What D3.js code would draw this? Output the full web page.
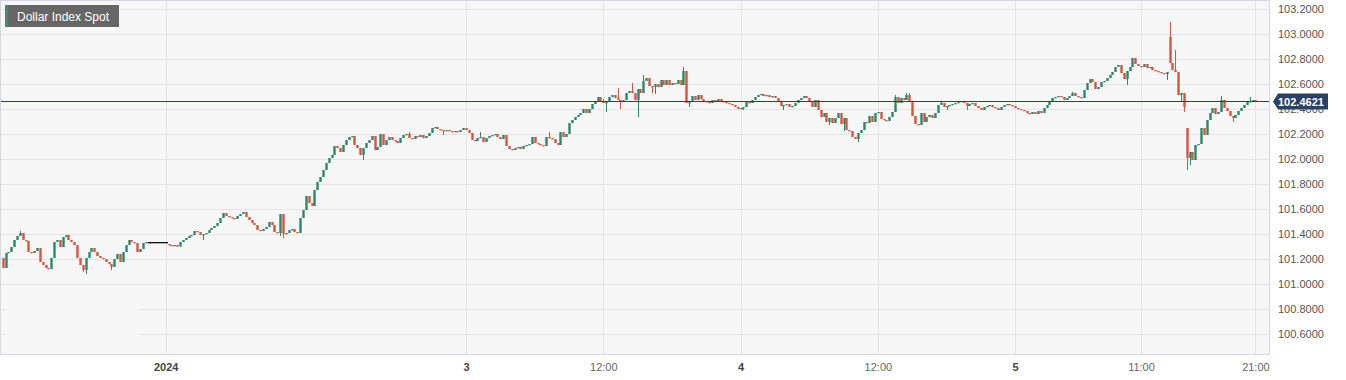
<!DOCTYPE html>
<html>
<head>
<meta charset="utf-8">
<script src="https://cdn.jsdelivr.net/npm/d3@7/dist/d3.min.js"></script>
<style>
    body { margin: 0; background: #fff; font-family: "Liberation Sans", Arial, sans-serif; }
    #chart { width: 1346px; height: 380px; }
</style>
</head>
<body>
<div id="chart"></div>
<script>
//Datos (velas de 15 minutos, cierre de cada vela)
const closes = [
    101.128,101.248,101.256,101.296,101.352,101.384,101.408,101.352,101.344,101.256,
    101.248,101.264,101.288,101.176,101.152,101.128,101.120,101.208,101.336,101.352,
    101.296,101.376,101.392,101.352,101.336,101.312,101.208,101.152,101.112,101.208,
    101.256,101.288,101.256,101.224,101.208,101.200,101.176,101.160,101.136,101.200,
    101.240,101.176,101.256,101.312,101.352,101.336,101.328,101.256,101.280,101.328,
    101.336,101.336,101.336,101.336,101.336,101.336,101.336,101.336,101.312,101.304,
    101.312,101.300,101.336,101.352,101.368,101.384,101.392,101.424,101.416,101.392,
    101.400,101.408,101.432,101.448,101.464,101.488,101.528,101.568,101.544,101.536,
    101.528,101.520,101.544,101.560,101.576,101.536,101.512,101.488,101.472,101.432,
    101.424,101.440,101.456,101.496,101.472,101.416,101.408,101.560,101.400,101.408,
    101.432,101.440,101.416,101.408,101.528,101.592,101.704,101.648,101.624,101.752,
    101.816,101.856,101.912,101.968,102.008,102.032,102.104,102.088,102.056,102.112,
    102.152,102.176,102.184,102.112,102.088,102.032,102.088,102.128,102.152,102.184,
    102.072,102.096,102.200,102.112,102.152,102.176,102.152,102.144,102.128,102.168,
    102.192,102.200,102.168,102.160,102.184,102.176,102.192,102.168,102.184,102.208,
    102.248,102.256,102.240,102.232,102.224,102.232,102.224,102.216,102.224,102.216,
    102.232,102.248,102.232,102.208,102.152,102.144,102.168,102.176,102.136,102.168,
    102.184,102.192,102.200,102.176,102.160,102.192,102.104,102.080,102.072,102.088,
    102.096,102.080,102.104,102.112,102.120,102.176,102.128,102.120,102.112,102.104,
    102.176,102.168,102.160,102.128,102.112,102.216,102.176,102.200,102.288,102.312,
    102.336,102.352,102.368,102.400,102.368,102.400,102.440,102.464,102.496,102.464,
    102.448,102.456,102.496,102.512,102.488,102.472,102.464,102.472,102.528,102.544,
    102.528,102.472,102.560,102.528,102.624,102.648,102.584,102.576,102.600,102.576,
    102.632,102.592,102.632,102.592,102.608,102.600,102.632,102.592,102.704,102.448,
    102.456,102.504,102.472,102.512,102.480,102.464,102.456,102.448,102.472,102.456,
    102.480,102.464,102.456,102.448,102.440,102.432,102.416,102.400,102.408,102.416,
    102.456,102.448,102.472,102.496,102.512,102.520,102.504,102.512,102.496,102.504,
    102.488,102.464,102.424,102.432,102.440,102.416,102.424,102.448,102.472,102.488,
    102.504,102.488,102.464,102.416,102.472,102.392,102.336,102.368,102.296,102.328,
    102.288,102.328,102.368,102.280,102.328,102.232,102.224,102.176,102.160,102.208,
    102.232,102.296,102.288,102.344,102.296,102.368,102.376,102.320,102.312,102.304,
    102.336,102.376,102.496,102.448,102.488,102.472,102.512,102.464,102.344,102.280,
    102.272,102.368,102.296,102.336,102.352,102.328,102.368,102.432,102.448,102.416,
    102.424,102.432,102.440,102.448,102.456,102.464,102.448,102.424,102.440,102.448,
    102.424,102.408,102.392,102.416,102.424,102.432,102.416,102.408,102.392,102.416,
    102.432,102.440,102.432,102.424,102.408,102.400,102.392,102.384,102.368,102.360,
    102.376,102.360,102.384,102.368,102.408,102.432,102.456,102.488,102.496,102.504,
    102.496,102.472,102.488,102.504,102.528,102.504,102.496,102.488,102.552,102.608,
    102.640,102.616,102.560,102.576,102.616,102.624,102.648,102.672,102.696,102.736,
    102.752,102.688,102.640,102.704,102.736,102.808,102.760,102.744,102.736,102.760,
    102.728,102.736,102.712,102.704,102.696,102.688,102.680,102.696,102.768,102.712,
    102.696,102.512,102.528,102.416,102.008,102.056,101.992,102.112,102.120,102.248,
    102.192,102.312,102.368,102.408,102.360,102.376,102.472,102.408,102.384,102.344,
    102.328,102.352,102.384,102.408,102.432,102.456,102.464,102.472,102.4621
];

//Aperturas con hueco (el resto abre en el cierre anterior)
const opens = { 0: 101.208, 58: 101.320, 408: 102.976, 414: 102.248 };

//Mechas visibles
const highs = {
    6: 101.424, 142: 102.216, 167: 102.216, 191: 102.216, 210: 102.480, 215: 102.568,
    220: 102.608, 224: 102.672, 238: 102.736, 312: 102.512, 316: 102.528, 317: 102.528,
    328: 102.464, 374: 102.536, 408: 103.096, 410: 102.872, 426: 102.504, 436: 102.496
};
const lows = {
    28: 101.096, 29: 101.080, 38: 101.112, 70: 101.352, 97: 101.384, 98: 101.368,
    126: 101.992, 154: 102.192, 211: 102.376, 216: 102.400, 222: 102.336, 227: 102.528,
    228: 102.520, 240: 102.416, 259: 102.392, 273: 102.392, 289: 102.272, 294: 102.224,
    299: 102.136, 330: 102.392, 337: 102.392, 393: 102.592, 407: 102.632, 412: 102.456,
    413: 102.376, 414: 101.912, 415: 101.952, 430: 102.296
};

//Ejes
const xTickIndex = [57, 162, 210, 258, 306, 354, 398, 438];
const xTickLabels = ['2024', '3', '12:00', '4', '12:00', '5', '11:00', '21:00'];
const xTickBold = [true, true, false, true, false, true, false, false];
const yTicks = [100.6, 100.8, 101.0, 101.2, 101.4, 101.6, 101.8, 102.0, 102.2, 102.4, 102.6, 102.8, 103.0, 103.2];
const lastPrice = 102.4621;
const seriesName = 'Dollar Index Spot';

//Colores fijos
const COLOR_UP = '#2c876b',
    COLOR_DOWN = '#d8543f',
    COLOR_GRID = '#e4e4e4',
    COLOR_BG = '#f7f7f7',
    COLOR_BORDER = '#d3d7e6',
    COLOR_LAST = '#2b4164';

let data = closes.map(function(c, i) {
    let o = opens[i] !== undefined ? opens[i] : closes[i - 1];
    return {
        i: i,
        o: o,
        c: c,
        h: highs[i] !== undefined ? highs[i] : Math.max(o, c),
        l: lows[i] !== undefined ? lows[i] : Math.min(o, c)
    };
});

let plotW = 1270, plotH = 355;

let svg = d3.select('#chart')
    .append('svg')
        .attr('width', 1346)
        .attr('height', 380);

let x = d3.scaleLinear()
    .domain([0, closes.length - 1])
    .range([2.7, 1255.4]);

let y = d3.scaleLinear()
    .domain([100.6, 103.2])
    .range([334, 9]);

//Fondo del área
svg.append('rect')
    .attr('x', 0.5).attr('y', 0.5)
    .attr('width', plotW - 1).attr('height', plotH - 1)
    .attr('fill', COLOR_BG);

//Rejilla
svg.append('g')
    .selectAll('line')
    .data(yTicks)
    .enter()
    .append('line')
        .attr('x1', 0).attr('x2', plotW)
        .attr('y1', function(d) { return Math.round(y(d)) + 0.5; })
        .attr('y2', function(d) { return Math.round(y(d)) + 0.5; })
        .attr('stroke', COLOR_GRID);

svg.append('g')
    .selectAll('line')
    .data(xTickIndex)
    .enter()
    .append('line')
        .attr('y1', 0).attr('y2', plotH)
        .attr('x1', function(d) { return Math.round(x(d)) + 0.5; })
        .attr('x2', function(d) { return Math.round(x(d)) + 0.5; })
        .attr('stroke', COLOR_GRID);

//Caja vacía abajo a la izquierda
svg.append('rect')
    .attr('x', 6).attr('y', 290)
    .attr('width', 133).attr('height', 64)
    .attr('fill', COLOR_BG);

//Velas
let candles = svg.append('g')
    .selectAll('g')
    .data(data)
    .enter()
    .append('g');

function candleColor(d) {
    if (d.c === d.o) return '#111';
    return d.c > d.o ? COLOR_UP : COLOR_DOWN;
}

candles.append('line')
    .attr('x1', function(d) { return Math.round(x(d.i)) + 0.5; })
    .attr('x2', function(d) { return Math.round(x(d.i)) + 0.5; })
    .attr('y1', function(d) { return y(d.h); })
    .attr('y2', function(d) { return y(d.l); })
    .attr('stroke', candleColor)
    .attr('stroke-width', 1);

candles.append('rect')
    .attr('x', function(d) { return d.c === d.o ? Math.round(x(d.i)) - 1 : Math.round(x(d.i)) + 0.5 - 1.2; })
    .attr('width', function(d) { return d.c === d.o ? 3 : 2.4; })
    .attr('y', function(d) { return Math.min(y(d.o), y(d.c)); })
    .attr('height', function(d) { return Math.max(1.3, Math.abs(y(d.o) - y(d.c))); })
    .attr('fill', candleColor);

//Línea del último precio
svg.append('line')
    .attr('x1', 0).attr('x2', plotW)
    .attr('y1', Math.round(y(lastPrice)) + 0.5)
    .attr('y2', Math.round(y(lastPrice)) + 0.5)
    .attr('stroke', COLOR_LAST)
    .attr('stroke-width', 1);

//Borde
svg.append('rect')
    .attr('x', 0.5).attr('y', 0.5)
    .attr('width', plotW - 1).attr('height', plotH - 1)
    .attr('fill', 'none')
    .attr('stroke', COLOR_BORDER);

//Eje Y
let yAxis = function(g) {
    g.call(d3.axisRight(y).tickValues(yTicks).tickSize(0).tickPadding(8)
        .tickFormat(function(d) { return d.toFixed(4); }));
    g.call(function(g) { g.select('.domain').remove(); });
    g.selectAll('text')
        .attr('fill', '#555')
        .style('font-size', '11px')
        .style('font-family', '"Liberation Sans", Arial, sans-serif');
};

svg.append('g')
    .attr('transform', 'translate(' + plotW + ',0)')
    .call(yAxis);

//Eje X
let xAxis = function(g) {
    g.call(d3.axisBottom(x).tickValues(xTickIndex).tickSize(0).tickPadding(8)
        .tickFormat(function(d, i) { return xTickLabels[i]; }));
    g.call(function(g) { g.select('.domain').remove(); });
    g.selectAll('text')
        .attr('fill', function(d, i) { return xTickBold[i] ? '#444' : '#666'; })
        .style('font-weight', function(d, i) { return xTickBold[i] ? 'bold' : 'normal'; })
        .style('font-size', '11px')
        .style('font-family', '"Liberation Sans", Arial, sans-serif');
};

svg.append('g')
    .attr('transform', 'translate(0,' + plotH + ')')
    .call(xAxis);

//Etiqueta del último precio (tapa la marca 102.4000, como en el original)
let yl = Math.round(y(lastPrice)) + 0.5;
svg.append('path')
    .attr('d', 'M' + (plotW + 3) + ',' + yl + 'L' + (plotW + 8) + ',' + (yl - 8) + 'L1328,' + (yl - 8) +
        'L1328,' + (yl + 8) + 'L' + (plotW + 8) + ',' + (yl + 8) + 'Z')
    .attr('fill', COLOR_LAST);

svg.append('text')
    .attr('x', plotW + 8)
    .attr('y', yl + 4)
    .attr('fill', '#fff')
    .style('font-size', '11px')
    .style('font-weight', 'bold')
    .style('font-family', '"Liberation Sans", Arial, sans-serif')
    .text(lastPrice.toFixed(4));

//Leyenda
let legend = svg.append('g');
legend.append('rect')
    .attr('x', 5).attr('y', 5)
    .attr('width', 114).attr('height', 22)
    .attr('fill', '#666');
legend.append('rect')
    .attr('x', 5).attr('y', 5)
    .attr('width', 3).attr('height', 22)
    .attr('fill', '#3a8f72');
legend.append('text')
    .attr('x', 17).attr('y', 20.5)
    .attr('fill', '#fff')
    .style('font-size', '12px')
    .style('font-family', '"Liberation Sans", Arial, sans-serif')
    .text(seriesName);
</script>
</body>
</html>
